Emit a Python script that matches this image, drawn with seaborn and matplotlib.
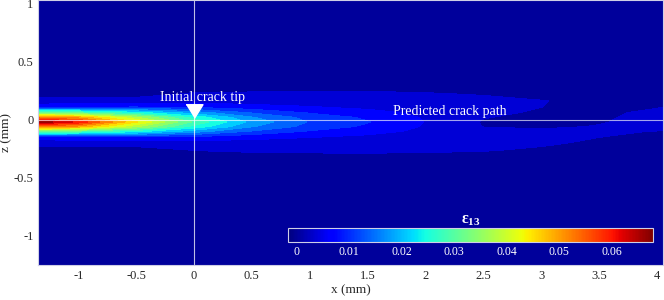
import matplotlib
matplotlib.use("Agg")
import matplotlib.pyplot as plt
import numpy as np
import seaborn as sns
from matplotlib.cm import ScalarMappable
from matplotlib.colors import Normalize
from matplotlib.transforms import ScaledTranslation

# grid positions of the strain map (mm)
x_mm = [-1.345, -1.0, -0.5, 0.0, 0.5, 1.0, 1.5, 2.0, 2.5, 3.0, 3.5, 4.05]
z_mm = [1.03, 0.40, 0.28, 0.22, 0.16, 0.11, 0.06, 0.02, -0.02, -0.06,
        -0.10, -0.15, -0.20, -0.26, -0.32, -0.45, -1.25]

# shear strain eps13, in units of 1e-3, one row per z
eps13_e3 = [
    [0.0, 0.0, 0.0, 0.0, 0.0, 0.0, 0.0, 0.0, 0.0, 0.0, 0.0, 0.0],
    [0.0, 0.0, 0.0, 0.0, 0.0, 0.0, 0.0, 0.0, 0.0, 0.0, 0.0, 0.0],
    [0.3, 0.3, 0.3, 0.7, 0.9, 1.2, 1.2, 1.0, 0.8, 0.4, 0.3, 0.4],
    [0.7, 0.7, 0.9, 2.2, 2.3, 2.4, 2.3, 2.1, 1.7, 1.0, 0.6, 1.0],
    [3.0, 3.0, 3.0, 3.8, 3.8, 3.6, 3.2, 3.0, 2.6, 2.0, 1.0, 1.4],
    [7.5, 8.0, 8.5, 8.0, 6.5, 5.5, 4.5, 3.6, 2.8, 1.9, 1.0, 1.8],
    [30.0, 29.0, 24.0, 17.5, 12.0, 8.5, 6.5, 4.5, 2.5, 1.5, 1.3, 2.6],
    [52.0, 49.0, 37.0, 25.0, 16.0, 11.0, 8.2, 5.0, 2.0, 1.2, 1.5, 2.8],
    [67.0, 60.0, 44.0, 29.0, 18.0, 12.0, 9.0, 5.2, 1.6, 1.2, 1.7, 2.8],
    [52.0, 49.0, 37.0, 25.0, 16.0, 11.0, 8.2, 5.0, 1.8, 1.5, 2.0, 2.6],
    [30.0, 29.0, 24.0, 17.5, 12.0, 8.5, 6.5, 4.6, 2.6, 2.3, 2.1, 1.8],
    [7.5, 8.0, 8.5, 8.0, 6.5, 5.5, 4.6, 3.8, 3.0, 2.5, 1.9, 1.2],
    [3.0, 3.0, 3.0, 3.8, 3.8, 3.6, 3.3, 3.1, 2.8, 2.3, 1.4, 0.8],
    [0.7, 0.7, 0.9, 2.0, 2.4, 2.4, 2.4, 2.3, 2.1, 1.5, 0.8, 0.4],
    [0.3, 0.3, 0.3, 0.7, 0.9, 1.2, 1.3, 1.2, 1.0, 0.5, 0.3, 0.2],
    [0.0, 0.0, 0.0, 0.0, 0.0, 0.0, 0.0, 0.0, 0.0, 0.0, 0.0, 0.0],
    [0.0, 0.0, 0.0, 0.0, 0.0, 0.0, 0.0, 0.0, 0.0, 0.0, 0.0, 0.0],
]

# crack tip and predicted crack path (mm)
tip_x = [0.0]
tip_z = [0.0]
path_x = [-1.345, 0.0, 4.05]
path_z = [0.0, 0.0, 0.0]

cbar_ticks = [0, 0.01, 0.02, 0.03, 0.04, 0.05, 0.06]
eps_min, eps_max = -0.0016, 0.0679

sns.set_style("white")
plt.rcParams['font.family'] = ['Liberation Serif', 'DejaVu Serif']
plt.rcParams['mathtext.fontset'] = 'custom'
plt.rcParams['mathtext.rm'] = 'Liberation Serif'
plt.rcParams['mathtext.bf'] = 'Liberation Serif:bold'

edge = '#cfcfe6'

fig = plt.figure(figsize=(6.64, 3.0), dpi=100)
ax = fig.add_axes([0.0577, 0.1167, 0.9404, 0.8817])

X, Z = np.meshgrid(x_mm, z_mm)
E = np.array(eps13_e3) * 1e-3
norm = Normalize(vmin=eps_min, vmax=eps_max)
ax.contourf(X, Z, E, levels=np.linspace(eps_min, eps_max, 21),
            cmap='jet', norm=norm)

# crack path and crack tip
sns.lineplot(x=path_x, y=path_z, ax=ax, color='white', lw=0.8, alpha=0.65,
             sort=False, estimator=None)
ax.axvline(tip_x[0], color='white', lw=0.8, alpha=0.75)
tri = [(-1, 0.8), (1, 0.8), (0, -0.8)]
ax.plot(tip_x, tip_z, ls='none', marker=tri, ms=12.2, color='white',
        transform=ax.transData + ScaledTranslation(0, 6.3 / 72, fig.dpi_scale_trans))

ax.text(0.07, 0.16, 'Initial crack tip', color='white', fontsize=10,
        ha='center', va='baseline')
ax.text(2.21, 0.043, 'Predicted crack path', color='white', fontsize=10,
        ha='center', va='baseline')

ax.set_xlim(-1.345, 4.05)
ax.set_ylim(-1.25, 1.025)
ax.set_xticks([-1, -0.5, 0, 0.5, 1, 1.5, 2, 2.5, 3, 3.5, 4])
ax.set_xticklabels(['-1', '-0.5', '0', '0.5', '1', '1.5', '2', '2.5', '3', '3.5', '4'])
ax.set_yticks([-1, -0.5, 0, 0.5, 1])
ax.set_yticklabels(['-1', '-0.5', '0', '0.5', '1'])
ax.tick_params(direction='in', length=4, width=0.6, color=edge,
               labelsize=9, labelcolor='#262626', top=True, right=True,
               bottom=True, left=True)
for s in ax.spines.values():
    s.set_color(edge)
    s.set_linewidth(0.8)
ax.set_xlabel('x (mm)', fontsize=9.5, color='#262626', labelpad=2)
ax.set_ylabel('z (mm)', fontsize=9.5, color='#262626', labelpad=1)

# colorbar inside the axes
cax = fig.add_axes([0.4342, 0.1943, 0.5497, 0.0467])
sm = ScalarMappable(norm=norm, cmap='jet')
cb = fig.colorbar(sm, cax=cax, orientation='horizontal', ticks=cbar_ticks)
cb.ax.set_xticklabels(['0', '0.01', '0.02', '0.03', '0.04', '0.05', '0.06'])
cb.ax.tick_params(direction='in', length=3, width=0.6, color='#9a9ac8',
                  labelsize=8.5, labelcolor='white', pad=3)
cb.outline.set_edgecolor(edge)
cb.outline.set_linewidth(0.8)
cb.ax.set_title('ε$_\\mathbf{13}$', color='white', fontsize=11.5,
                fontweight='bold', pad=3)

fig.savefig('out.png', dpi=100)
